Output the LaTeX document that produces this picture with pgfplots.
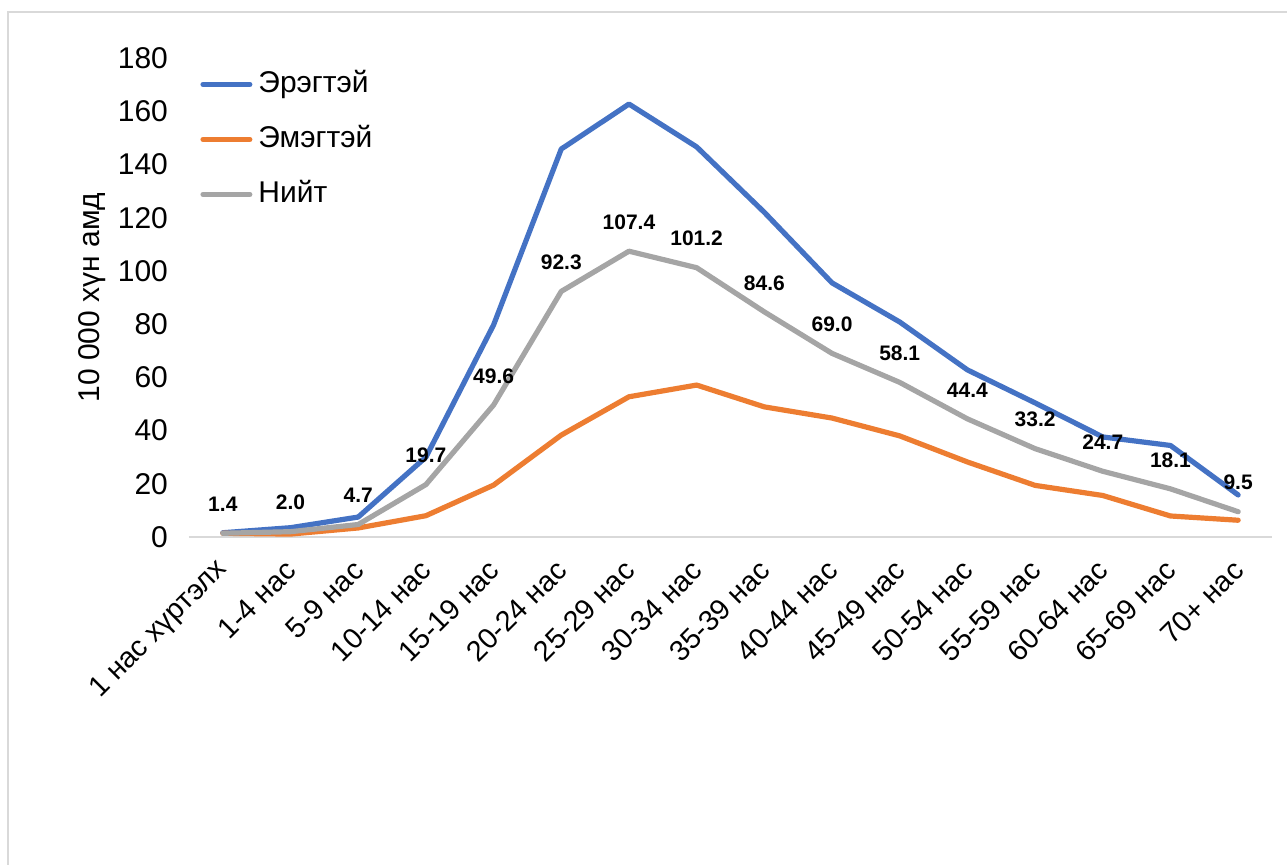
\documentclass[border=0pt]{standalone}
\usepackage{pgfplots}
\pgfplotsset{compat=1.18}
\usepackage{fontspec}
\setmainfont{Liberation Sans}
\definecolor{cblue}{HTML}{4472C4}
\definecolor{corange}{HTML}{ED7D31}
\definecolor{cgray}{HTML}{A5A5A5}
\definecolor{cframe}{HTML}{D9D9D9}
\begin{document}
\begin{tikzpicture}
\path[use as bounding box] (-94.5pt,-163.5pt) rectangle (549pt,268.5pt);
\draw[cframe, line width=0.75pt] (-90.5pt,-170pt) -- (-90.5pt,262.5pt) -- (560pt,262.5pt);
\begin{axis}[
  at={(0pt,0pt)}, anchor=south west,
  scale only axis, width=541.5pt, height=239.5pt,
  xmin=-0.5, xmax=15.5, ymin=0, ymax=180,
  ytick={0,20,...,180},
  xtick={0,...,15},
  xticklabels={1 нас хүртэлх,1-4 нас,5-9 нас,10-14 нас,15-19 нас,20-24 нас,25-29 нас,30-34 нас,35-39 нас,40-44 нас,45-49 нас,50-54 нас,55-59 нас,60-64 нас,65-69 нас,70+ нас},
  axis x line*=bottom,
  axis y line*=left,
  y axis line style={draw=none},
  x axis line style={cframe, line width=0.75pt, -},
  major tick length=0pt,
  tick label style={font=\fontsize{15pt}{18pt}\selectfont},
  x tick label style={font=\fontsize{14.4pt}{17pt}\selectfont, anchor=east, inner sep=1pt, xshift=1pt, yshift=-13.5pt, rotate=45},
  y tick label style={xshift=-7pt},
  /pgf/number format/assume math mode=true,
  ylabel={10 000 хүн амд},
  ylabel style={font=\fontsize{15pt}{18pt}\selectfont, at={(axis description cs:-0.0896,0.5)}, anchor=center},
  legend style={draw=none, fill=none, at={(0.0102,0.975)}, anchor=north west, font=\fontsize{15pt}{18pt}\selectfont, row sep=13.5pt, column sep=3pt, inner sep=0pt, nodes={inner sep=0pt, text height=11pt, text depth=3pt}, cells={anchor=west}},
  legend cell align=left,
  legend image code/.code={\draw[#1, line cap=round] (1.3pt,0pt) -- (24.7pt,0pt);},
  every axis plot/.append style={line width=2.6pt, line join=round, line cap=round},
  clip=false,
]
\addplot[cblue] coordinates {(0,1.6) (1,3.5) (2,7.5) (3,30) (4,79.7) (5,145.8) (6,162.7) (7,146.6) (8,122) (9,95.5) (10,80.8) (11,62.8) (12,50.4) (13,37.6) (14,34.4) (15,15.8)};
\addlegendentry{Эрэгтэй}
\addplot[corange] coordinates {(0,1.4) (1,1.1) (2,3.4) (3,8.0) (4,19.5) (5,38.3) (6,52.7) (7,57.1) (8,48.9) (9,44.7) (10,38.0) (11,28.2) (12,19.4) (13,15.6) (14,7.9) (15,6.3)};
\addlegendentry{Эмэгтэй}
\addplot[cgray, nodes near coords, point meta=explicit symbolic,
  every node near coord/.style={font=\fontsize{10.5pt}{12pt}\bfseries\selectfont, text=black, anchor=center, yshift=14.5pt}]
  coordinates {(0,1.4)[1.4] (1,2.0)[2.0] (2,4.7)[4.7] (3,19.7)[19.7] (4,49.6)[49.6] (5,92.3)[92.3] (6,107.4)[107.4] (7,101.2)[101.2] (8,84.6)[84.6] (9,69.0)[69.0] (10,58.1)[58.1] (11,44.4)[44.4] (12,33.2)[33.2] (13,24.7)[24.7] (14,18.1)[18.1] (15,9.5)[9.5]};
\addlegendentry{Нийт}
\end{axis}
\end{tikzpicture}
\end{document}
